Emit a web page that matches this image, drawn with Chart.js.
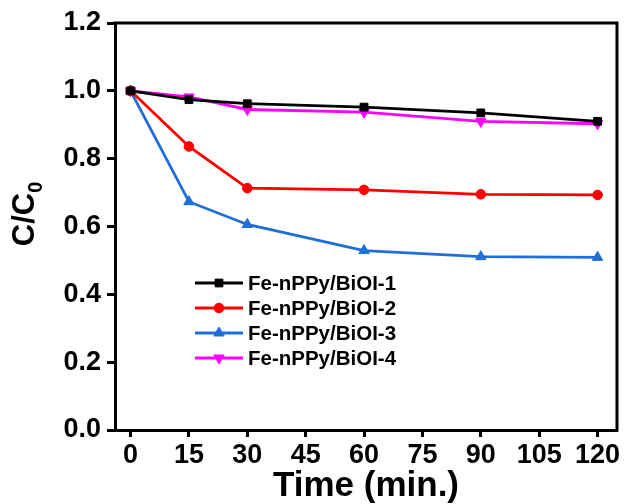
<!DOCTYPE html>
<html>
<head>
<meta charset="utf-8">
<script src="https://cdn.jsdelivr.net/npm/chart.js@4/dist/chart.umd.min.js"></script>
<style>
html,body{margin:0;padding:0;background:#fff;}
#wrap{width:626px;height:504px;position:relative;}
</style>
</head>
<body>
<div id="wrap"><canvas id="c" width="626" height="504"></canvas></div>
<script>
const times = [0, 15, 30, 60, 90, 120];
const xTickValues = [0, 15, 30, 45, 60, 75, 90, 105, 120];
const yTickValues = [0, 0.2, 0.4, 0.6, 0.8, 1.0, 1.2];
const seriesNames = ['Fe-nPPy/BiOI-1', 'Fe-nPPy/BiOI-2', 'Fe-nPPy/BiOI-3', 'Fe-nPPy/BiOI-4'];
const bioi1 = [1.000, 0.974, 0.962, 0.952, 0.935, 0.910];
const bioi2 = [1.000, 0.836, 0.713, 0.708, 0.695, 0.693];
const bioi3 = [1.000, 0.673, 0.606, 0.529, 0.511, 0.509];
const bioi4 = [1.000, 0.982, 0.945, 0.937, 0.910, 0.903];
const xTitle = 'Time (min.)';
const yTitleMain = 'C/C';
const yTitleSub = '0';

const FONT = '"Liberation Sans", Arial, sans-serif';
const colors = ['#000000', '#ff0000', '#1f6fd8', '#ff00ff'];
const styles = ['rect', 'circle', 'triangle', 'triangle'];
const rotations = [0, 0, 0, 180];
const radii = [5.5, 4.8, 6, 6];
const values = [bioi1, bioi2, bioi3, bioi4];

const datasets = values.map((v, i) => ({
  label: seriesNames[i],
  data: times.map((t, j) => ({x: t, y: v[j]})),
  borderColor: colors[i],
  backgroundColor: colors[i],
  borderWidth: 2.8,
  pointStyle: styles[i],
  pointRotation: rotations[i],
  pointRadius: radii[i],
  pointBorderWidth: 1,
  tension: 0
}));

const boxPlugin = {
  id: 'box',
  afterDraw(chart) {
    const {ctx, chartArea: a} = chart;
    ctx.save();
    ctx.strokeStyle = '#000';
    ctx.lineWidth = 3;
    ctx.beginPath();
    ctx.moveTo(a.left - 1.5, a.top);
    ctx.lineTo(a.right, a.top);
    ctx.lineTo(a.right, a.bottom + 1.5);
    ctx.stroke();
    ctx.restore();

    // y title with subscript
    ctx.save();
    ctx.translate(28, 214);
    ctx.rotate(-Math.PI / 2);
    ctx.fillStyle = '#000';
    ctx.font = 'bold 31px ' + FONT;
    ctx.textBaseline = 'alphabetic';
    const wMain = ctx.measureText(yTitleMain).width;
    ctx.font = 'bold 20px ' + FONT;
    const wSub = ctx.measureText(yTitleSub).width;
    const total = wMain + wSub;
    ctx.font = 'bold 31px ' + FONT;
    ctx.textAlign = 'left';
    ctx.fillText(yTitleMain, -total / 2, 6);
    ctx.font = 'bold 20px ' + FONT;
    ctx.fillText(yTitleSub, -total / 2 + wMain, 14);
    ctx.restore();

    // legend
    ctx.save();
    const x0 = 195, x1 = 243, tx = 248, y0 = 283, dy = 25;
    chart.data.datasets.forEach((ds, i) => {
      const y = y0 + i * dy;
      ctx.strokeStyle = ds.borderColor;
      ctx.lineWidth = 2.8;
      ctx.beginPath();
      ctx.moveTo(x0, y);
      ctx.lineTo(x1, y);
      ctx.stroke();
      ctx.fillStyle = ds.backgroundColor;
      ctx.lineWidth = 1;
      Chart.helpers.drawPoint(ctx, {pointStyle: ds.pointStyle, rotation: ds.pointRotation, radius: ds.pointRadius, borderWidth: 1}, (x0 + x1) / 2, y);
      ctx.fillStyle = '#000';
      ctx.font = 'bold 20.5px ' + FONT;
      ctx.textBaseline = 'middle';
      ctx.textAlign = 'left';
      ctx.fillText(ds.label, tx, y + 1);
    });
    ctx.restore();
  }
};

new Chart(document.getElementById('c'), {
  type: 'line',
  data: {datasets: datasets},
  options: {
    responsive: false,
    animation: false,
    devicePixelRatio: 1,
    layout: {padding: {left: 0, right: 9, top: 23, bottom: 0}},
    plugins: {legend: {display: false}, tooltip: {enabled: false}},
    scales: {
      x: {
        type: 'linear',
        min: -4,
        max: 125,
        afterBuildTicks: s => { s.ticks = xTickValues.map(v => ({value: v})); },
        afterFit: s => { s.height = 74; },
        grid: {display: true, drawOnChartArea: false, drawTicks: true, tickLength: 7, tickWidth: 3, tickColor: '#000'},
        border: {display: true, color: '#000', width: 3},
        ticks: {color: '#000', font: {family: FONT, weight: 'bold', size: 27}, padding: 2, maxRotation: 0, autoSkip: false, callback: v => String(v)},
        title: {display: true, text: xTitle, color: '#000', font: {family: FONT, weight: 'bold', size: 35, lineHeight: 1.0}, padding: {top: 0, bottom: 0}}
      },
      y: {
        type: 'linear',
        min: 0,
        max: 1.2,
        afterBuildTicks: s => { s.ticks = yTickValues.map(v => ({value: v})); },
        afterFit: s => { s.width = 115; },
        grid: {display: true, drawOnChartArea: false, drawTicks: true, tickLength: 8, tickWidth: 3, tickColor: '#000'},
        border: {display: true, color: '#000', width: 3},
        ticks: {color: '#000', font: {family: FONT, weight: 'bold', size: 27}, padding: 6, callback: v => Number(v).toFixed(1)}
      }
    }
  },
  plugins: [boxPlugin]
});
</script>
</body>
</html>
